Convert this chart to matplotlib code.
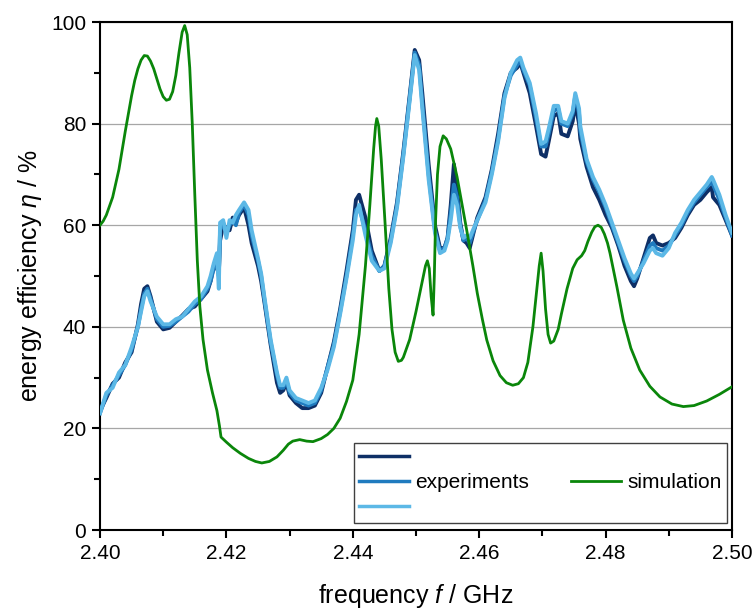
import numpy as np
import matplotlib
matplotlib.use("Agg")
import matplotlib.pyplot as plt
from matplotlib.lines import Line2D
from matplotlib.ticker import MultipleLocator

plt.rcParams['font.family'] = ['Liberation Sans', 'DejaVu Sans']
plt.rcParams['mathtext.fontset'] = 'custom'
plt.rcParams['mathtext.rm'] = 'Liberation Sans'
plt.rcParams['mathtext.it'] = 'Liberation Sans:italic'

# measured curves (three runs), frequency in GHz, efficiency in %
f_exp = [2.400, 2.401, 2.402, 2.403, 2.404, 2.405, 2.406, 2.4065, 2.407, 2.4075,
         2.408, 2.409, 2.410, 2.411, 2.412, 2.413, 2.414, 2.415, 2.416, 2.417,
         2.4175, 2.418, 2.4185, 2.4188, 2.4190, 2.4195, 2.420, 2.4205, 2.421, 2.4215,
         2.422, 2.4228, 2.4235, 2.424, 2.425, 2.4255, 2.426, 2.427, 2.428, 2.4285,
         2.429, 2.4295, 2.430, 2.431, 2.432, 2.433, 2.434, 2.435, 2.436, 2.437,
         2.438, 2.439, 2.440, 2.4405, 2.441, 2.442, 2.443, 2.4442, 2.445, 2.446,
         2.447, 2.448, 2.449, 2.4498, 2.4505, 2.451, 2.452, 2.453, 2.4538, 2.4545,
         2.455, 2.4555, 2.456, 2.4565, 2.457, 2.4575, 2.458, 2.4585, 2.459, 2.4597,
         2.461, 2.462, 2.463, 2.464, 2.465, 2.466, 2.4665, 2.467, 2.468, 2.469,
         2.4698, 2.4705, 2.471, 2.4718, 2.4725, 2.473, 2.474, 2.4748, 2.4752, 2.4758,
         2.476, 2.477, 2.478, 2.479, 2.480, 2.481, 2.482, 2.483, 2.484, 2.4845,
         2.485, 2.486, 2.487, 2.4875, 2.488, 2.489, 2.490, 2.491, 2.492, 2.493,
         2.494, 2.495, 2.496, 2.4968, 2.497, 2.498, 2.499, 2.500]

eta_dark = [23.5, 26.0, 28.8, 30.0, 33.0, 35.0, 40.5, 44.5, 47.5, 48.0,
            46.0, 41.0, 39.5, 39.8, 41.0, 42.2, 43.5, 44.0, 45.5, 47.0,
            49.0, 52.0, 51.5, 50.5, 57.0, 60.0, 59.5, 59.0, 61.5, 60.5,
            62.0, 63.5, 60.0, 56.5, 52.0, 49.0, 45.0, 36.5, 29.0, 27.0,
            27.5, 29.0, 26.5, 25.0, 24.0, 24.0, 24.5, 27.0, 32.0, 37.0,
            43.5, 51.0, 59.0, 65.0, 66.0, 61.5, 55.0, 51.0, 52.0, 57.5,
            64.5, 74.5, 85.5, 94.5, 92.5, 86.0, 72.0, 60.0, 55.5, 55.5,
            57.5, 64.0, 72.0, 67.0, 60.5, 57.0, 56.5, 55.5, 58.0, 61.5,
            65.5, 71.0, 78.0, 86.0, 90.0, 91.0, 92.0, 90.0, 86.0, 79.5,
            74.0, 73.5, 76.5, 81.5, 82.0, 78.0, 77.5, 80.5, 84.0, 80.0,
            77.0, 71.5, 67.5, 65.0, 62.0, 59.5, 56.0, 52.0, 49.0, 48.0,
            49.5, 53.5, 57.5, 58.0, 56.5, 56.0, 56.5, 57.5, 59.5, 62.0,
            64.0, 65.0, 66.5, 67.5, 65.5, 64.0, 61.0, 58.0]

eta_mid = [23.0, 26.5, 28.5, 30.5, 32.5, 35.5, 40.0, 43.5, 46.5, 47.5,
           45.5, 41.5, 40.0, 40.2, 41.0, 42.0, 43.0, 44.5, 45.5, 47.5,
           49.0, 51.5, 53.0, 50.0, 59.0, 60.5, 58.5, 60.0, 61.0, 60.0,
           62.5, 64.0, 62.0, 58.0, 53.0, 50.0, 45.5, 37.0, 30.5, 28.0,
           28.0, 29.5, 27.0, 25.5, 25.0, 24.5, 25.0, 27.5, 32.0, 36.5,
           43.0, 50.0, 58.0, 63.0, 63.5, 59.0, 54.0, 51.0, 52.0, 57.0,
           64.0, 74.0, 85.0, 94.0, 91.5, 84.0, 70.0, 59.0, 55.0, 55.5,
           57.5, 62.5, 68.0, 65.5, 60.0, 57.0, 57.5, 56.5, 58.5, 61.0,
           65.0, 70.5, 77.0, 85.5, 89.5, 91.5, 92.5, 90.5, 87.5, 81.0,
           75.5, 75.5, 78.0, 82.5, 83.0, 80.0, 79.5, 82.0, 85.5, 82.0,
           78.5, 72.5, 69.0, 66.5, 63.5, 60.0, 56.5, 53.0, 50.0, 49.0,
           50.0, 53.0, 56.0, 56.5, 55.5, 55.0, 56.0, 58.0, 60.0, 62.5,
           64.5, 66.0, 67.5, 68.5, 68.0, 65.0, 61.5, 58.0]

eta_light = [23.0, 27.0, 28.0, 31.0, 32.5, 36.0, 40.0, 43.0, 46.0, 47.0,
             45.0, 42.0, 40.5, 40.5, 41.5, 42.0, 43.5, 45.0, 46.0, 48.0,
             50.0, 52.5, 54.5, 47.5, 60.5, 61.0, 57.5, 61.0, 60.5, 62.0,
             63.0, 64.5, 63.0, 59.0, 53.5, 50.5, 46.0, 37.5, 31.0, 28.5,
             28.5, 30.0, 27.5, 26.0, 25.5, 25.0, 25.5, 28.0, 31.5, 36.0,
             42.5, 49.5, 57.0, 62.0, 64.0, 58.0, 53.0, 51.0, 51.5, 56.5,
             63.5, 73.5, 84.5, 93.5, 90.5, 83.0, 69.0, 58.5, 54.5, 55.0,
             57.0, 61.0, 66.0, 64.0, 59.5, 57.5, 58.0, 57.5, 59.0, 61.0,
             64.5, 70.0, 76.5, 85.0, 90.0, 92.5, 93.0, 91.0, 88.0, 82.0,
             76.0, 76.5, 79.0, 83.5, 83.5, 80.5, 80.0, 82.5, 86.0, 83.0,
             79.5, 73.0, 69.5, 67.0, 64.0, 60.5, 57.0, 53.5, 50.5, 49.5,
             50.5, 52.5, 55.0, 55.5, 54.5, 54.0, 55.5, 58.5, 60.5, 63.0,
             65.0, 66.5, 68.0, 69.5, 69.0, 66.0, 62.0, 58.5]

# simulated efficiency
f_sim = [2.400, 2.4005, 2.401, 2.402, 2.403, 2.404, 2.405, 2.4055, 2.406, 2.4065,
         2.407, 2.4075, 2.408, 2.4085, 2.409, 2.4095, 2.410, 2.4105, 2.411, 2.4115,
         2.412, 2.4125, 2.413, 2.4134, 2.4138, 2.4142, 2.4146, 2.4150, 2.4154, 2.4158,
         2.4163, 2.417, 2.4178, 2.4185, 2.4189, 2.41915, 2.420, 2.421, 2.4222, 2.4235,
         2.4246, 2.4256, 2.4268, 2.428, 2.429, 2.4298, 2.4305, 2.4316, 2.4327, 2.4337,
         2.435, 2.436, 2.437, 2.438, 2.439, 2.440, 2.441, 2.442, 2.4427, 2.4433,
         2.4436, 2.4438, 2.4441, 2.4445, 2.4451, 2.4457, 2.4462, 2.4467, 2.4472, 2.4477,
         2.448, 2.449, 2.450, 2.451, 2.4515, 2.4518, 2.4521, 2.4524, 2.4527, 2.4529,
         2.4531, 2.4534, 2.4538, 2.4543, 2.4548, 2.4555, 2.4565, 2.4573, 2.4581, 2.459,
         2.4597, 2.4605, 2.4612, 2.4622, 2.4633, 2.4643, 2.4653, 2.4662, 2.467, 2.4677,
         2.4685, 2.469, 2.4695, 2.4698, 2.4701, 2.4705, 2.4709, 2.4713, 2.4718, 2.4725,
         2.473, 2.4739, 2.4748, 2.4755, 2.4762, 2.4767, 2.4772, 2.4778, 2.4783, 2.4788,
         2.4793, 2.4798, 2.4803, 2.4807, 2.4812, 2.4818, 2.4828, 2.484, 2.4854, 2.487,
         2.4886, 2.4905, 2.4923, 2.494, 2.496, 2.498, 2.500]

eta_sim = [60.0, 60.8, 62.0, 65.5, 71.0, 78.5, 85.5, 88.5, 90.8, 92.5,
           93.4, 93.3, 92.3, 90.8, 88.8, 86.8, 85.3, 84.6, 84.8, 86.3,
           89.5, 94.0, 98.0, 99.3, 97.5, 91.0, 80.0, 66.0, 53.0, 44.0,
           37.5, 31.5, 27.0, 23.5, 20.5, 18.3, 17.3, 16.2, 15.1, 14.1,
           13.5, 13.2, 13.5, 14.4, 15.7, 16.9, 17.5, 17.8, 17.5, 17.4,
           18.0, 18.8, 20.0, 22.0, 25.3, 29.5, 38.5, 52.0, 64.0, 75.0,
           79.5, 81.0, 79.5, 73.0, 60.5, 47.5, 39.5, 35.0, 33.2, 33.4,
           34.0, 37.5, 43.0, 49.0, 52.0, 53.0, 51.5, 46.0, 42.3, 50.0,
           61.0, 70.0, 75.5, 77.6, 77.0, 75.0, 69.5, 64.0, 58.5, 52.0,
           46.6, 41.5, 37.4, 33.3, 30.4, 29.0, 28.5, 28.8, 30.0, 33.0,
           40.0, 46.0, 52.0, 54.5, 51.0, 43.5, 38.5, 36.8, 37.2, 39.5,
           42.5, 47.5, 51.5, 53.2, 54.0, 55.0, 56.8, 58.6, 59.7, 60.0,
           59.6, 58.3, 56.5, 54.5, 51.5, 47.8, 41.3, 35.8, 31.5, 28.3,
           26.2, 24.8, 24.3, 24.5, 25.4, 26.7, 28.2]

c_dark = '#0e2f66'
c_mid = '#1f7bbf'
c_light = '#5cb8e6'
c_sim = '#0a860a'

fig = plt.figure(figsize=(7.53, 6.10), dpi=100)
ax = fig.add_axes([0.1328, 0.1311, 0.8393, 0.8328])

ax.plot(f_exp, eta_dark, color=c_dark, lw=2.8, zorder=3)
ax.plot(f_exp, eta_mid, color=c_mid, lw=2.8, zorder=3)
ax.plot(f_exp, eta_light, color=c_light, lw=2.8, zorder=3)
ax.plot(f_sim, eta_sim, color=c_sim, lw=2.0, zorder=4)

ax.set_xlim(2.40, 2.50)
ax.set_ylim(0, 100)
ax.xaxis.set_major_locator(MultipleLocator(0.02))
ax.xaxis.set_minor_locator(MultipleLocator(0.01))
ax.yaxis.set_major_locator(MultipleLocator(20))
ax.yaxis.set_minor_locator(MultipleLocator(10))
ax.xaxis.set_major_formatter(plt.FormatStrFormatter('%.2f'))
ax.grid(axis='y', which='major', color='#a6a6a6', lw=0.9, zorder=0)
ax.set_axisbelow(True)

for s in ax.spines.values():
    s.set_linewidth(1.5)
    s.set_color('black')
ax.tick_params(which='major', direction='out', length=6, width=1.5, labelsize=15,
               top=False, right=False, pad=4)
ax.tick_params(which='minor', direction='out', length=4, width=1.5,
               top=False, right=False)

ax.set_xlabel(r'frequency $\mathit{f}$ / GHz', fontsize=18, labelpad=14)
ax.set_ylabel(r'energy efficiency $\eta$ / %', fontsize=18, labelpad=5)

blank = Line2D([], [], color='none')
handles = [Line2D([], [], color=c_dark, lw=2.5),
           Line2D([], [], color=c_mid, lw=2.5),
           Line2D([], [], color=c_light, lw=2.5),
           blank,
           Line2D([], [], color=c_sim, lw=2.0),
           blank]
labels = ['', 'experiments', '', '', 'simulation', '']
leg = ax.legend(handles, labels, ncol=2, loc='lower right',
                bbox_to_anchor=(0.992, 0.014), borderaxespad=0,
                fontsize=15, handlelength=2.4, handletextpad=0.3,
                columnspacing=2.0, labelspacing=0.3, borderpad=0.25,
                frameon=True, fancybox=False, framealpha=1)
leg.get_frame().set_edgecolor('#404040')
leg.get_frame().set_linewidth(1.0)

fig.savefig('out.png', dpi=100)
